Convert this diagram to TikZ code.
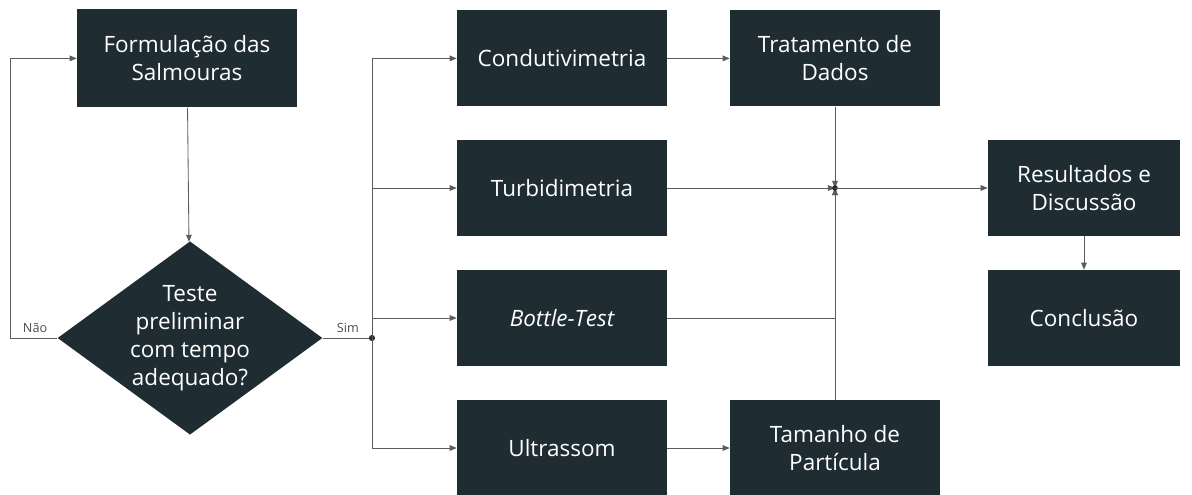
\documentclass[tikz,border=0pt]{standalone}
\usepackage{fontspec}
\setmainfont{Open Sans}
\usetikzlibrary{shapes.geometric,arrows.meta}

\definecolor{caixa}{HTML}{1F2D33}
\definecolor{linha}{HTML}{5C5C5C}

\begin{document}
\begin{tikzpicture}[>={Triangle[length=5pt,width=4pt]},
    etapa/.style={rectangle, fill=caixa, text=white, minimum width=5.25cm,
      minimum height=2.4cm, align=center, font=\fontsize{16}{20}\selectfont},
    decisao/.style={diamond, fill=caixa, text=white, aspect=1.37, inner sep=0pt,
      minimum width=6.5cm, minimum height=4.75cm, align=center,
      font=\fontsize{16}{20}\selectfont},
    fluxo/.style={draw=linha, line width=0.6pt, ->},
    rotulo/.style={font=\fontsize{9}{10}\selectfont, text=black!70}]
        \useasboundingbox (0,0) rectangle (29.8,-12.35);

        % Left column: brine formulation and preliminary test
        \node[etapa, minimum width=5.5cm, minimum height=2.45cm] (form) at (4.675,-1.46) {Formulação das\\Salmouras};
        \node[decisao] (teste) at (4.75,-8.45) {Teste\\preliminar\\com tempo\\adequado?};

        % Middle column: the four analyses
        \node[etapa] (cond)   at (14.05,-1.46)  {Condutivimetria};
        \node[etapa] (turb)   at (14.05,-4.7)   {Turbidimetria};
        \node[etapa] (bottle) at (14.05,-7.95)  {\itshape Bottle-Test};
        \node[etapa] (ultra)  at (14.05,-11.2)  {Ultrassom};

        % Processing steps
        \node[etapa] (trat) at (20.875,-1.46) {Tratamento de\\Dados};
        \node[etapa] (tam)  at (20.875,-11.2) {Tamanho de\\Partícula};

        % Right column
        \node[etapa, minimum width=4.8cm] (result) at (27.1,-4.7)  {Resultados e\\Discussão};
        \node[etapa, minimum width=4.8cm] (conc)   at (27.1,-7.95) {Conclusão};

        % Branch points
        \coordinate (nao) at (0.25,-8.45);
        \coordinate (sim) at (9.3,-8.45);
        \coordinate (juncao) at (20.875,-4.7);

        % Decision loop
        \draw[fluxo] (form) -- (teste);
        \draw[fluxo] (teste.west) -- (nao) |- (form.west);
        \node[rotulo, anchor=south west] at (0.45,-8.45) {Não};
        \draw[linha, line width=0.6pt] (teste.east) -- (sim);
        \node[rotulo, anchor=south west] at (8.3,-8.45) {Sim};
        \fill[caixa] (sim) circle (2.2pt);

        % Fan out to the analyses
        \foreach \n in {cond,turb,bottle,ultra}
          \draw[fluxo] (sim) |- (\n.west);

        \draw[fluxo] (cond) -- (trat);
        \draw[fluxo] (ultra) -- (tam);

        % Everything meets at one point
        \draw[fluxo] (trat) -- (juncao);
        \draw[fluxo] (turb) -- (juncao);
        \draw[fluxo] (bottle) -| (juncao);
        \draw[fluxo] (tam) -- (juncao);
        \fill[caixa] (juncao) circle (2pt);

        \draw[fluxo] (juncao) -- (result);
        \draw[fluxo] (result) -- (conc);
\end{tikzpicture}
\end{document}
